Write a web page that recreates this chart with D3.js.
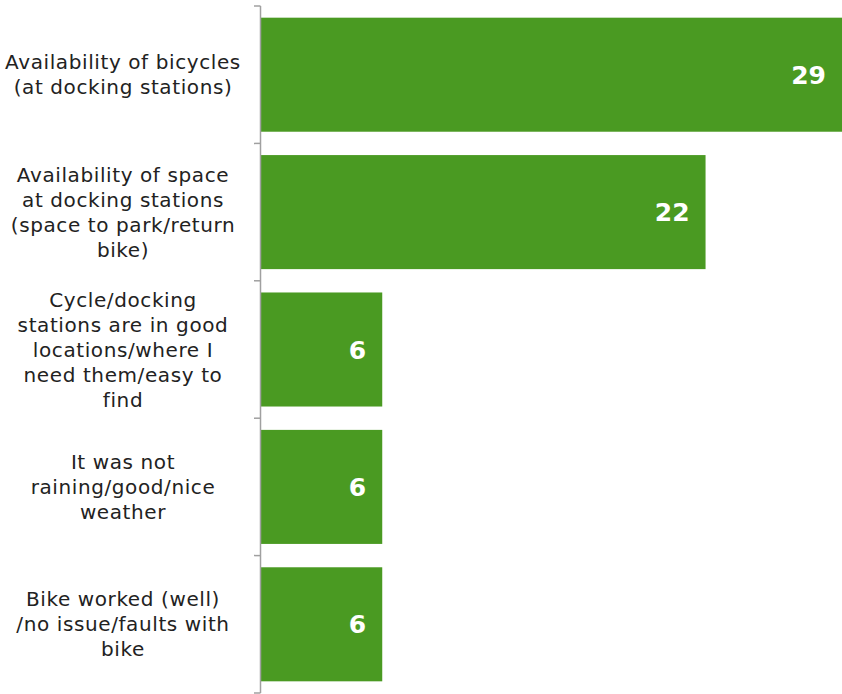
<!DOCTYPE html>
<html>
<head>
<meta charset="utf-8">
<script src="https://cdn.jsdelivr.net/npm/d3@7"></script>
<style>
  body { margin: 0; background: #fff; }
  svg { display: block; font-family: "DejaVu Sans", Verdana, sans-serif; }
</style>
</head>
<body>
<svg id="chart" width="842" height="694"></svg>
<script>
const categories = [
  ["Availability of bicycles", "(at docking stations)"],
  ["Availability of space", "at docking stations", "(space to park/return", "bike)"],
  ["Cycle/docking", "stations are in good", "locations/where I", "need them/easy to", "find"],
  ["It was not", "raining/good/nice", "weather"],
  ["Bike worked (well)", "/no issue/faults with", "bike"]
];
const values = [29, 22, 6, 6, 6];

const svg = d3.select("#chart");
const ids = d3.range(categories.length);

const x = d3.scaleLinear().domain([0, 29]).range([261, 847]);
const y = d3.scaleBand()
  .domain(ids)
  .range([6, 693])
  .paddingInner(0.17)
  .paddingOuter(0.085);

// bars
svg.append("g")
  .selectAll("rect")
  .data(ids)
  .enter()
  .append("rect")
  .attr("x", x(0))
  .attr("y", (i) => y(i))
  .attr("width", (i) => x(values[i]) - x(0))
  .attr("height", y.bandwidth())
  .attr("fill", "#4a9a22");

// axis line + tick marks at band boundaries
const ax = svg.append("g").attr("stroke", "#a0a0a0").attr("stroke-width", 1.5);
ax.append("line")
  .attr("x1", 260.5).attr("x2", 260.5)
  .attr("y1", 6).attr("y2", 693);
ax.selectAll(".tick")
  .data(d3.range(categories.length + 1))
  .enter()
  .append("line")
  .attr("x1", 254).attr("x2", 260.5)
  .attr("y1", (k) => 6 + k * (687 / categories.length))
  .attr("y2", (k) => 6 + k * (687 / categories.length));

// category labels
const lineH = 25;
svg.append("g")
  .selectAll("text")
  .data(ids)
  .enter()
  .append("text")
  .attr("text-anchor", "middle")
  .attr("font-size", 20)
  .attr("letter-spacing", 0.6)
  .attr("fill", "#222")
  .each(function (i) {
    const lines = categories[i];
    const cy = y(i) + y.bandwidth() / 2;
    const top = cy - ((lines.length - 1) * lineH) / 2;
    d3.select(this)
      .selectAll("tspan")
      .data(lines)
      .enter()
      .append("tspan")
      .attr("x", 123)
      .attr("y", (d, j) => top + j * lineH)
      .attr("dy", "0.35em")
      .text((d) => d);
  });

// value labels
svg.append("g")
  .selectAll("text")
  .data(ids)
  .enter()
  .append("text")
  .attr("x", (i) => Math.min(x(values[i]), 842) - 16)
  .attr("y", (i) => y(i) + y.bandwidth() / 2)
  .attr("dy", "0.36em")
  .attr("text-anchor", "end")
  .attr("font-size", 25)
  .attr("font-weight", "bold")
  .attr("fill", "#fff")
  .text((i) => values[i]);
</script>
</body>
</html>
